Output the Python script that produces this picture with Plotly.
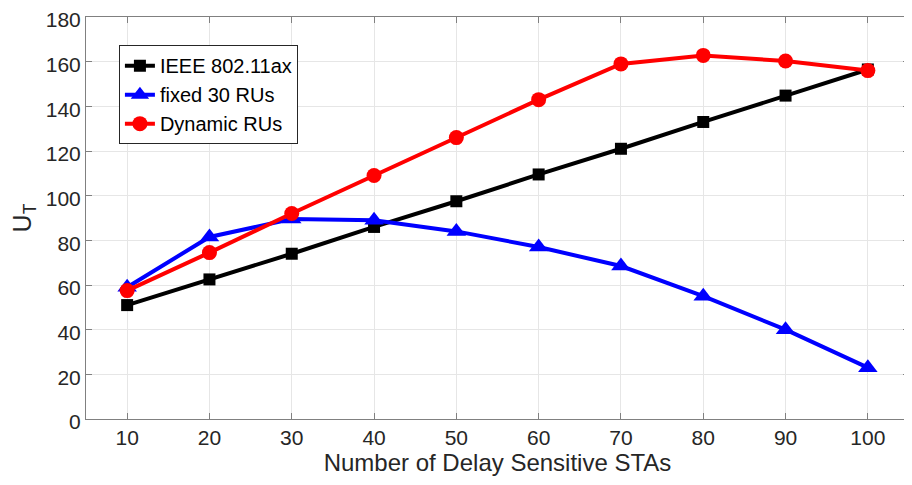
import plotly.graph_objects as go

x_vals = [10, 20, 30, 40, 50, 60, 70, 80, 90, 100]
ieee = [51, 62.5, 74, 86, 97.5, 109.5, 121, 133, 144.8, 156.5]
fixed30 = [59, 81.5, 89.5, 89, 84, 77, 68.5, 55, 40, 23]
dynamic = [57.5, 74.5, 92, 109, 126, 143, 159, 162.8, 160.3, 156]

names = ["IEEE 802.11ax", "fixed 30 RUs", "Dynamic RUs"]
colors = ["black", "#0000ff", "#ff0000"]
symbols = ["square", "triangle-up", "circle"]
sizes = [12, 17, 15]

FONT = "Arial, Liberation Sans"

fig = go.Figure()
for ys, n, c, s, sz in zip([ieee, fixed30, dynamic], names, colors, symbols, sizes):
    fig.add_trace(go.Scatter(x=x_vals, y=ys, name=n, mode="lines+markers",
                             line=dict(color=c, width=4),
                             marker=dict(symbol=s, size=sz, color=c)))

axis_common = dict(showline=True, linecolor="#808080", linewidth=1, mirror="ticks",
                   ticks="inside", ticklen=6, tickcolor="#808080",
                   showgrid=True, gridcolor="#e6e6e6", gridwidth=1, zeroline=False,
                   automargin=False, ticklabeloverflow="allow",
                   tickfont=dict(family=FONT, size=21, color="#262626"))

fig.update_xaxes(range=[5, 105], tickvals=x_vals, **axis_common,
                 title=dict(text="Number of Delay Sensitive STAs",
                            font=dict(family=FONT, size=24, color="#262626"),
                            standoff=4))
fig.update_yaxes(range=[0, 180], dtick=20, ticklabelshift=3, **axis_common,
                 title=dict(text="U<sub>T</sub>",
                            font=dict(family=FONT, size=25, color="#262626"),
                            standoff=10))

fig.update_layout(width=904, height=477, plot_bgcolor="white", paper_bgcolor="white",
                  margin=dict(l=78, r=3, t=9, b=66),
                  legend=dict(x=0.04, y=0.93, xanchor="left", yanchor="top",
                              bgcolor="white", bordercolor="#262626", borderwidth=1,
                              font=dict(family=FONT, size=20, color="black"),
                              tracegroupgap=0, itemwidth=30),
                  showlegend=True)

fig.write_html("out.html")
